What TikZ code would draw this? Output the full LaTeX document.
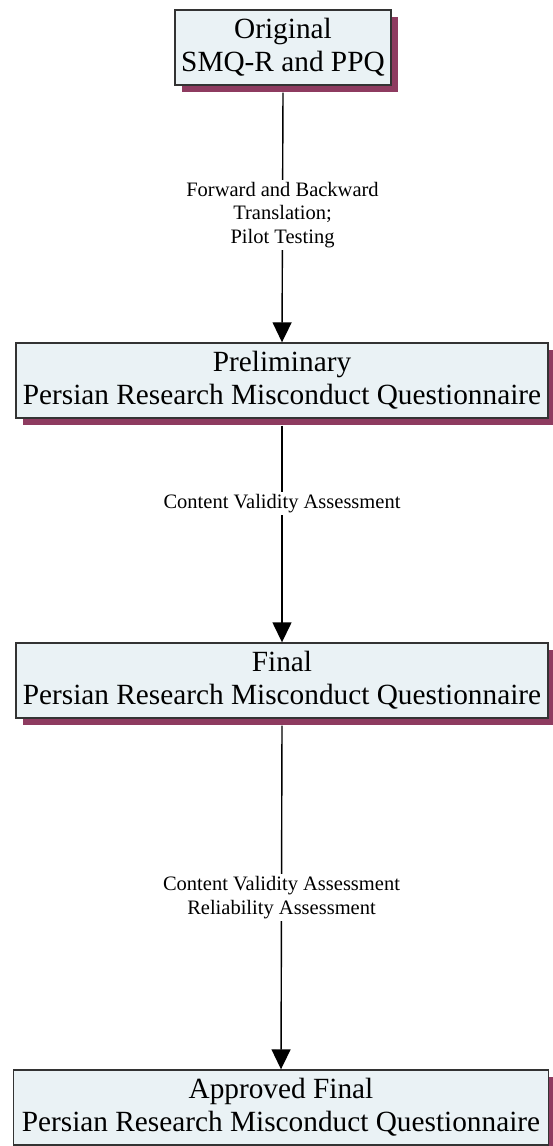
\documentclass[tikz,border=0pt]{standalone}
\usepackage{fontspec}
\setmainfont{Liberation Serif}
\usepackage{tikz}
\usetikzlibrary{calc, positioning, arrows.meta, shadows}
\definecolor{boxfill}{HTML}{EAF2F5}
\definecolor{boxshadow}{HTML}{8E3B60}
\tikzset{
	stagebox/.style={draw=black!80, line width=1.4pt, fill=boxfill, align=center,
		font=\fontsize{29.3}{33}\selectfont, minimum height=75pt, inner sep=0pt,
		drop shadow={shadow xshift=7pt, shadow yshift=-7pt, fill=boxshadow, opacity=1}},
	flowarrow/.style={line width=1.4pt, -{Triangle[width=19pt, length=20pt]}},
	steplabel/.style={fill=white, align=center, font=\fontsize{20.5}{23.5}\selectfont, inner sep=2pt},
}

\begin{document}
\begin{tikzpicture}[x=1pt, y=-1pt]
	\useasboundingbox (0,0) rectangle (553,1146);
	\node[stagebox, minimum width=216pt] (orig) at (283,47.5) {Original\\SMQ-R and PPQ};
	\node[stagebox, minimum width=532pt] (prelim) at (282,380.5) {Preliminary\\Persian Research Misconduct Questionnaire};
	\node[stagebox, minimum width=532pt] (final) at (282,680.5) {Final\\Persian Research Misconduct Questionnaire};
	\node[stagebox, minimum width=535pt] (approved) at (281,1107.5) {Approved Final\\Persian Research Misconduct Questionnaire};

	\draw[flowarrow] ($(orig.south)+(0,7)$) -- node[steplabel, pos=0.49] (trans) {Forward and Backward\\Translation;\\Pilot Testing} (prelim.north);
	\draw[flowarrow] ($(prelim.south)+(0,7)$) -- node[steplabel, pos=0.36] (cva) {Content Validity Assessment} (final.north);
	\draw[flowarrow] ($(final.south)+(0,7)$) -- node[steplabel, pos=0.5] (rel) {Content Validity Assessment\\Reliability Assessment} (approved.north);
\end{tikzpicture}
\end{document}
